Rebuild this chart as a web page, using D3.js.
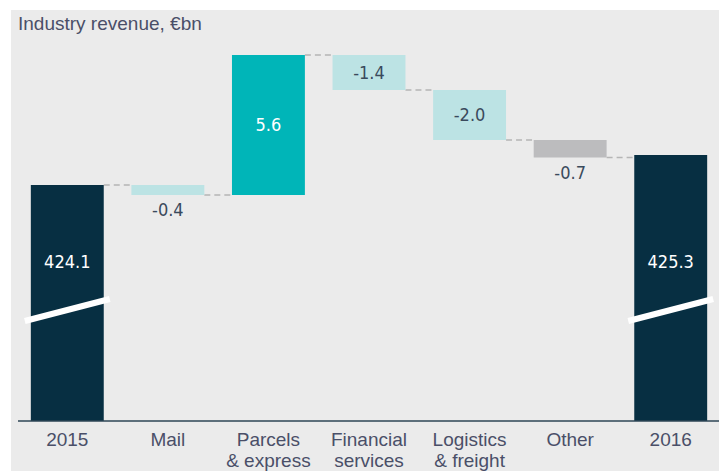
<!DOCTYPE html>
<html>
<head>
<meta charset="utf-8">
<script src="https://cdn.jsdelivr.net/npm/d3@7"></script>
<style>
  body { margin: 0; background: #ffffff; }
  svg { display: block; }
</style>
</head>
<body>
<svg id="chart" width="719" height="471"></svg>
<script>
// chart data
const categories = [["2015"], ["Mail"], ["Parcels", "& express"], ["Financial", "services"], ["Logistics", "& freight"], ["Other"], ["2016"]];
const values = [424.1, -0.4, 5.6, -1.4, -2.0, -0.7, 425.3];
const barTypes = ["total", "change", "change", "change", "change", "other", "total"];
const valueLabels = ["424.1", "-0.4", "5.6", "-1.4", "-2.0", "-0.7", "425.3"];
const title = "Industry revenue, €bn";

const colors = {
  total: "#072f42",
  up: "#00b5b8",
  down: "#bce3e4",
  other: "#bcbcbe"
};

let svg = d3.select("#chart"),
  width = +svg.attr("width"),
  height = +svg.attr("height"),
  baseline = 421;

// grey panel
svg.append("rect")
  .attr("x", 11).attr("y", 10)
  .attr("width", width - 11).attr("height", height - 10)
  .attr("fill", "#ebebeb");

// build waterfall segments
let running = 0;
let bars = values.map(function (v, i) {
  let start, end;
  if (barTypes[i] === "total") {
    start = null;
    end = v;
    running = v;
  } else {
    start = running;
    end = running + v;
    running = end;
  }
  return { i: i, value: v, type: barTypes[i], start: start, end: end, label: valueLabels[i] };
});

let x = d3.scaleBand()
  .domain(d3.range(categories.length))
  .range([17, 721])
  .paddingInner(0.275)
  .paddingOuter(0.1375);

// broken axis: bottom of the range is not zero
let y = d3.scaleLinear().domain([414.66, 429.3]).range([baseline, 55]);

// connectors
for (let k = 0; k < bars.length - 1; k++) {
  let lvl = bars[k].end;
  svg.append("line")
    .attr("x1", x(k) + x.bandwidth())
    .attr("x2", x(k + 1))
    .attr("y1", y(lvl))
    .attr("y2", y(lvl))
    .attr("stroke", "#b5b5b5")
    .attr("stroke-width", 1.5)
    .attr("stroke-dasharray", "6,4");
}

function barColor(d) {
  if (d.type === "total") return colors.total;
  if (d.type === "other") return colors.other;
  return d.value >= 0 ? colors.up : colors.down;
}

svg.append("g")
  .selectAll("rect")
  .data(bars)
  .enter()
  .append("rect")
  .attr("x", (d) => x(d.i))
  .attr("width", x.bandwidth())
  .attr("y", (d) => (d.type === "total" ? y(d.end) : y(Math.max(d.start, d.end))))
  .attr("height", function (d) {
    if (d.type === "total") return baseline - y(d.end);
    return Math.abs(y(d.start) - y(d.end));
  })
  .attr("fill", barColor);

// axis break marks on totals
bars.filter((d) => d.type === "total").forEach(function (d) {
  let bx = x(d.i);
  svg.append("line")
    .attr("x1", bx - 6)
    .attr("y1", baseline - 100)
    .attr("x2", bx + x.bandwidth() + 6)
    .attr("y2", baseline - 122)
    .attr("stroke", "#ffffff")
    .attr("stroke-width", 6);
});

// baseline
svg.append("line")
  .attr("x1", 18).attr("x2", width)
  .attr("y1", baseline).attr("y2", baseline)
  .attr("stroke", "#2e4656")
  .attr("stroke-width", 1.5);

// value labels
const numFont = "'DejaVu Sans Condensed', 'DejaVu Sans', sans-serif";
svg.append("g")
  .selectAll("text")
  .data(bars)
  .enter()
  .append("text")
  .attr("x", (d) => x(d.i) + x.bandwidth() / 2)
  .attr("y", function (d) {
    if (d.type === "total") return 262;
    let top = y(Math.max(d.start, d.end)),
      bottom = y(Math.min(d.start, d.end));
    if (bottom - top > 25) return (top + bottom) / 2;
    return bottom + 15;
  })
  .attr("dy", "0.35em")
  .attr("text-anchor", "middle")
  .attr("font-family", numFont)
  .attr("font-size", "18px")
  .attr("fill", function (d) {
    if (d.type === "total") return "#ffffff";
    let h = Math.abs(y(d.start) - y(d.end));
    if (h > 25 && d.value > 0) return "#ffffff";
    return "#3a4a5c";
  })
  .text((d) => d.label);

// category labels
let cat = svg.append("g")
  .selectAll("text")
  .data(categories)
  .enter()
  .append("text")
  .attr("x", (d, i) => x(i) + x.bandwidth() / 2)
  .attr("y", 446)
  .attr("text-anchor", "middle")
  .attr("font-family", "'Liberation Sans', Arial, sans-serif")
  .attr("font-size", "19px")
  .attr("fill", "#4a4f68");

cat.selectAll("tspan")
  .data((d) => d)
  .enter()
  .append("tspan")
  .attr("x", function () { return d3.select(this.parentNode).attr("x"); })
  .attr("dy", (d, j) => (j === 0 ? 0 : 21))
  .text((d) => d);

// title
svg.append("text")
  .attr("x", 18)
  .attr("y", 30)
  .attr("font-family", "'Liberation Sans', Arial, sans-serif")
  .attr("font-size", "19px")
  .attr("fill", "#4a4f68")
  .text(title);
</script>
</body>
</html>
